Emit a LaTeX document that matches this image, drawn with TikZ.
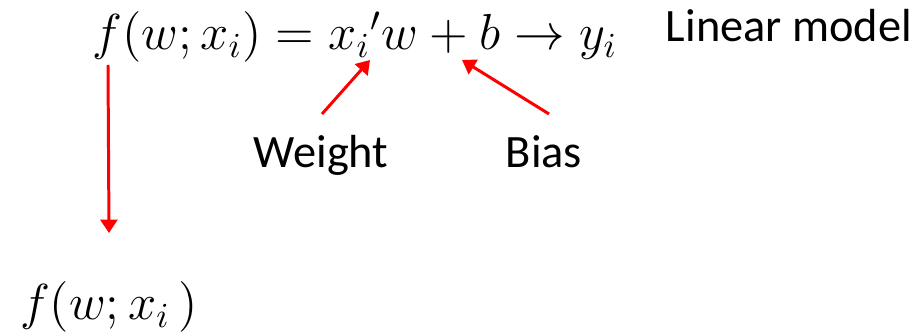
\documentclass[tikz,border=0pt]{standalone}
\usepackage{amsmath}
\usepackage{fontspec}
\setmainfont{Carlito}
\usetikzlibrary{arrows.meta}
\usetikzlibrary{positioning}

\tikzset{
  redarrow/.style={draw=red, line width=0.85pt, -{Triangle[length=3.8pt,width=4.8pt]}},
  eqn/.style={font=\fontsize{14.7}{18}\selectfont, inner sep=0pt, anchor=base},
  lbl/.style={font=\fontsize{13.2}{16}\selectfont, inner sep=0pt, anchor=base}
}

\begin{document}
\begin{tikzpicture}
            \useasboundingbox (0,0) rectangle (9.18,3.35);
            % model equation and its name
            \node[eqn] (model) at (3.55,2.85) {$f(w;x_i) = {x_i}'w + b \to y_i$};
            \node[lbl] (linear) at (7.89,2.93) {Linear model};

            % labels under the equation
            \node[lbl] (weight) at (3.21,1.67) {Weight};
            \node[lbl] (bias) at (5.44,1.67) {Bias};

            % output
            \node[eqn] (out) at (1.09,0.15) {$f(w;x_i\,)$};

            % arrow ends
            \coordinate (ftop) at (1.08,2.70);
            \coordinate (wtail) at (3.22,2.21);
            \coordinate (whead) at (3.70,2.75);
            \coordinate (btail) at (5.49,2.21);
            \coordinate (bhead) at (4.62,2.75);

            % arrows
            \draw[redarrow] (ftop) -- (out.north |- 0,1.02);
            \draw[redarrow] (wtail) -- (whead);
            \draw[redarrow] (btail) -- (bhead);
        \end{tikzpicture}
\end{document}
